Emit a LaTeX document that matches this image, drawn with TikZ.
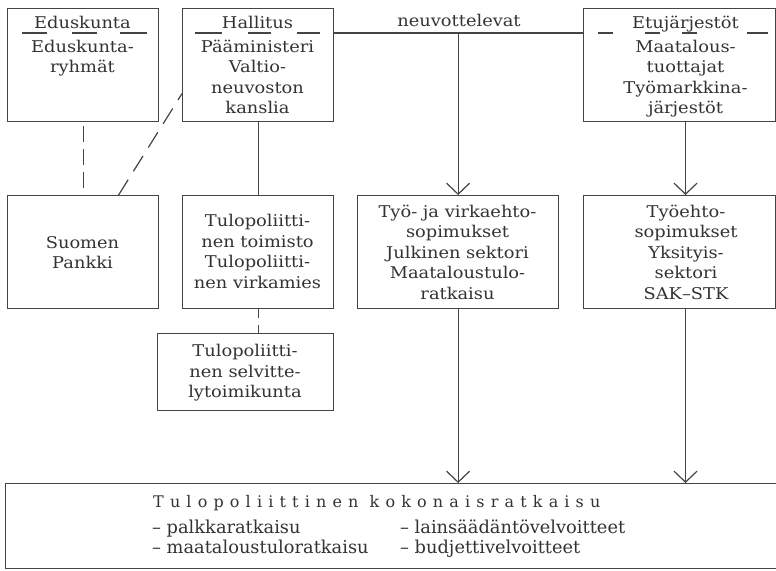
\documentclass[tikz,border=0pt]{standalone}
\usepackage{fontspec}
\setmainfont{DejaVu Serif}
\newfontfamily\boxfont{DejaVu Serif}[FakeStretch=1.1]
\newfontfamily\titlefont{DejaVu Serif}[LetterSpace=38.5]
\usetikzlibrary{arrows.meta}
\definecolor{ink}{HTML}{333333}
\definecolor{rulec}{HTML}{444444}
\begin{document}
\begin{tikzpicture}[x=1pt,y=-1pt,
  box/.style={draw=rulec,line width=1.2pt,inner sep=0pt,rectangle,anchor=north west},
  txt/.style={text=ink,font=\boxfont\fontsize{16.2}{20.5}\selectfont,align=center,anchor=base,inner sep=0pt},
  lst/.style={text=ink,font=\fontsize{17.8}{20.5}\selectfont,anchor=base west,inner sep=0pt},
  conn/.style={draw=rulec,line width=1.2pt},
  arr/.style={conn,-{Straight Barb[length=11pt,width=23pt,line width=1.2pt]}}
]
\clip (0,0) rectangle (776,570);
\fill[white] (0,0) rectangle (776,570);
% boxes
\node[box,minimum width=151pt,minimum height=113pt] (edu) at (7,8) {};
\node[box,minimum width=151pt,minimum height=113pt] (hal) at (182,8) {};
\node[box,minimum width=192pt,minimum height=113pt] (etu) at (583,8) {};
\node[box,minimum width=151pt,minimum height=113pt] (pankki) at (7,195) {};
\node[box,minimum width=151pt,minimum height=113pt] (toim) at (182,195) {};
\node[box,minimum width=176pt,minimum height=77pt] (sel) at (157,333) {};
\node[box,minimum width=201pt,minimum height=113pt] (tyo) at (357,195) {};
\node[box,minimum width=192pt,minimum height=113pt] (tyoeh) at (583,195) {};
\node[box,minimum width=800pt,minimum height=85pt] (bot) at (5,483) {};
% header separators
\draw[conn] (22,33) -- (47,33) (72,33) -- (97,33) (120,33) -- (147,33);
\draw[conn] (195,33) -- (222,33) (248,33) -- (271,33) (297,33) -- (320,33);
\draw[conn] (598,33) -- (613,33) (645,33) -- (660,33) (682,33) -- (697,33) (747,33) -- (768,33);
% texts (anchor at the baseline of the last line)
\node[txt] (tEduH) at (82.5,28) {Eduskunta};
\node[txt] (tEdu) at (82.5,72.5) {Eduskunta-\\ryhmät};
\node[txt] (tHalH) at (257.5,28) {Hallitus};
\node[txt] (tHal) at (257.5,113.5) {Pääministeri\\Valtio-\\neuvoston\\kanslia};
\node[txt] (tNeu) at (459,27) {neuvottelevat};
\node[txt] (tEtuH) at (685.5,28) {Etujärjestöt};
\node[txt] (tEtu) at (685.5,113.5) {Maatalous-\\tuottajat\\Työmarkkina-\\järjestöt};
\node[txt] (tPan) at (82.5,268.5) {Suomen\\Pankki};
\node[txt] (tToi) at (257.5,288) {Tulopoliitti-\\nen toimisto\\Tulopoliitti-\\nen virkamies};
\node[txt] (tSel) at (245,397.5) {Tulopoliitti-\\nen selvitte-\\lytoimikunta};
\node[txt] (tTyo) at (457.5,299) {Työ- ja virkaehto-\\sopimukset\\Julkinen sektori\\Maataloustulo-\\ratkaisu};
\node[txt] (tTye) at (686,299) {Työehto-\\sopimukset\\Yksityis-\\sektori\\SAK–STK};
\node[text=ink,anchor=base west,inner sep=0pt,font=\titlefont\fontsize{16}{20}\selectfont] (tTit) at (153,507) {Tulopoliittinen kokonaisratkaisu};
\node[lst] (l1) at (152,533) {– palkkaratkaisu};
\node[lst] (l2) at (152,553) {– maataloustuloratkaisu};
\node[lst] (l3) at (400,533) {– lainsäädäntövelvoitteet};
\node[lst] (l4) at (400,553) {– budjettivelvoitteet};
% connectors
\coordinate (hl) at (0,33);
\coordinate (ax) at (685.5,0);
\draw[conn] (hal.east |- hl) -- (etu.west |- hl);
\draw[arr] (tyo.north |- hl) -- (tyo.north);
\draw[arr] (etu.south -| ax) -- (tyoeh.north -| ax);
\draw[arr] (tyo.south) -- (tyo.south |- bot.north);
\draw[arr] (tyoeh.south -| ax) -- (bot.north -| ax);
\draw[conn] (hal.south) -- (toim.north);
\draw[conn,dash pattern=on 16pt off 7pt,dash phase=19pt] (edu.south) -- (pankki.north);
\draw[conn,dash pattern=on 18pt off 10pt] ([xshift=35.5pt]pankki.north) -- ([yshift=-28.5pt]hal.west);
\draw[conn,dash pattern=on 9pt off 7pt] (toim.south) -- (toim.south |- sel.north);
\end{tikzpicture}
\end{document}
